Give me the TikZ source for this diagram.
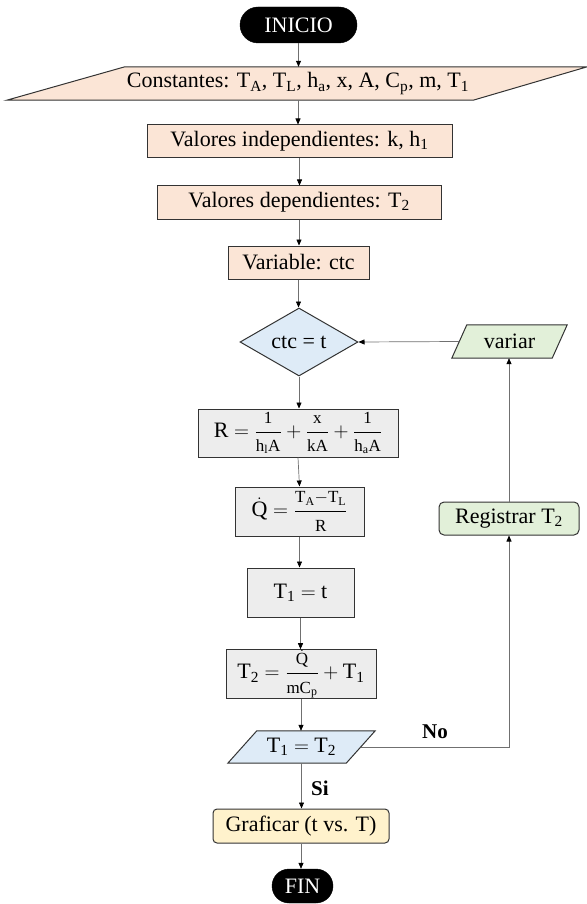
\documentclass[tikz,border=0pt]{standalone}
\usepackage{amsmath}
\usepackage{fontspec}
\setmainfont{Liberation Serif}
\usetikzlibrary{shapes.geometric,arrows.meta,backgrounds}
\definecolor{salmonf}{HTML}{FBE5D6}
\definecolor{bluef}{HTML}{DEEBF7}
\definecolor{greenf}{HTML}{E2F0D9}
\definecolor{grayf}{HTML}{EDEDED}
\definecolor{yellowf}{HTML}{FFF2CC}
\definecolor{bordc}{HTML}{333333}
\definecolor{connc}{HTML}{707070}
\tikzset{
  txt/.style={font=\fontsize{22}{26}\selectfont},
  box/.style={txt, draw=bordc, line width=1pt, inner sep=0pt},
  outline/.style={draw=bordc, line width=1pt},
  term/.style={txt, fill=black, draw=black, text=white, inner sep=0pt},
  proc/.style={box, fill=salmonf, minimum height=33pt},
  calc/.style={box, fill=grayf},
  ptext/.style={txt, inner sep=0pt, minimum height=33pt},
  conn/.style={draw=connc, line width=0.7pt, -{Triangle[length=6pt,width=5pt,color=black]}},
  lbl/.style={font=\fontsize{21}{25}\selectfont\bfseries, inner sep=0pt},
}
\newcommand{\sbs}[1]{\textsubscript{#1}}
\newcommand{\ff}[2]{\dfrac{\mbox{\fontsize{17}{19}\selectfont #1}}{\mbox{\fontsize{17}{19}\selectfont #2}}}
\begin{document}
\begin{tikzpicture}[x=1pt,y=-1pt]
\useasboundingbox (0,0) rectangle (586,904);
% nodes
\node[term, minimum width=117pt, minimum height=36pt, rounded corners=18pt] (ini) at (298.5,25) {INICIO};
\node[ptext, minimum width=464pt] (const) at (298,83.5) {Constantes: T\sbs{A}, T\sbs{L}, h\sbs{a}, x, A, C\sbs{p}, m, T\sbs{1}};
\node[proc, minimum width=305pt] (vi) at (299.5,141.5) {Valores independientes: k, h\sbs{1}};
\node[proc, minimum width=284pt] (vd) at (299,202.5) {Valores dependientes: T\sbs{2}};
\node[proc, minimum width=141pt] (vc) at (298.5,262.5) {Variable: ctc};
\node[box, diamond, fill=bluef, minimum width=118pt, minimum height=68pt, aspect=1.735] (dec) at (299,342) {ctc = t};
\node[ptext, minimum width=100pt] (var) at (509.5,341.5) {variar};
\node[calc, minimum width=200pt, minimum height=48pt] (rr) at (298,433) {R $=\ff{1}{h\sbs{l}A}+\ff{x}{kA}+\ff{1}{h\sbs{a}A}$};
\node[calc, minimum width=129pt, minimum height=49pt] (qq) at (299.5,511.5) {$\dot{\mathrm{Q}}=\ff{T\sbs{A}$-$T\sbs{L}}{R}$};
\node[calc, minimum width=107pt, minimum height=49pt] (t1) at (300.5,592.5) {T\sbs{1} $=$ t};
\node[calc, minimum width=150pt, minimum height=48pt] (t2) at (301,674) {T\sbs{2} $=\ff{$\dot{\mathrm{Q}}$}{mC\sbs{p}}+{}$T\sbs{1}};
\node[ptext, minimum width=118pt, minimum height=32pt] (cmp) at (301.5,747) {T\sbs{1} $=$ T\sbs{2}};
\node[box, fill=yellowf, minimum width=176pt, minimum height=34pt, rounded corners=4pt] (graf) at (301,826) {Graficar (t vs. T)};
\node[term, minimum width=61pt, minimum height=34pt, rounded corners=17pt] (fin) at (302.5,886) {FIN};
\node[box, fill=greenf, minimum width=140pt, minimum height=33pt, rounded corners=5pt] (reg) at (509,518.5) {Registrar T\sbs{2}};
\node[lbl] (no) at (435,732) {No};
\node[lbl] (si) at (320,788) {Si};
% parallelogram outlines
\begin{scope}[on background layer]
\draw[outline, fill=salmonf] ([xshift=59pt]const.north west) -- ([xshift=57pt]const.north east) -- ([xshift=-57pt]const.south east) -- ([xshift=-59pt]const.south west) -- cycle;
\draw[outline, fill=greenf] ([xshift=7.5pt]var.north west) -- ([xshift=7.5pt]var.north east) -- ([xshift=-7.5pt]var.south east) -- ([xshift=-7.5pt]var.south west) -- cycle;
\draw[outline, fill=bluef] ([xshift=14.5pt]cmp.north west) -- ([xshift=14.5pt]cmp.north east) -- ([xshift=-14.5pt]cmp.south east) -- ([xshift=-14.5pt]cmp.south west) -- cycle;
\end{scope}
% connectors
\draw[conn] (ini.south) -- (ini.south |- const.north);
\draw[conn] (const.south) -- (const.south |- vi.north);
\draw[conn] (vi.south) -- (vi.south |- vd.north);
\draw[conn] (vd.south) -- (vd.south |- vc.north);
\draw[conn] (vc.south) -- (vc.south |- dec.north);
\draw[conn] (dec.south) -- (dec.south |- rr.north);
\draw[conn] (rr.south) -- (qq.north);
\draw[conn] (qq.south) -- (qq.south |- t1.north);
\draw[conn] (t1.south) -- (t1.south |- t2.north);
\draw[conn] (t2.south) -- (t2.south |- cmp.north);
\draw[conn] (cmp.south) -- (cmp.south |- graf.north);
\draw[conn] (graf.south) -- (graf.south |- fin.north);
\draw[conn] (cmp.east) -| (reg.south);
\draw[conn] (reg.north) -- (reg.north |- var.south);
\draw[conn] (var.west) -- (dec.east);
\end{tikzpicture}
\end{document}
